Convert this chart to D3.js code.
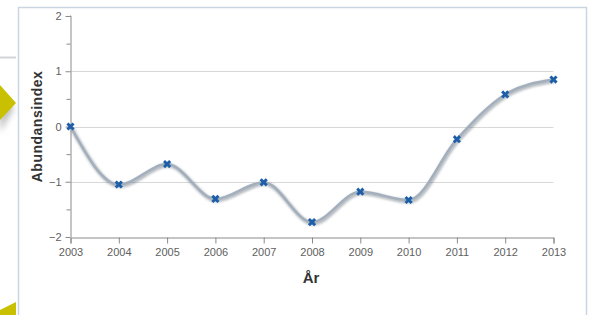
<!DOCTYPE html>
<html>
<head>
<meta charset="utf-8">
<script src="https://cdn.jsdelivr.net/npm/d3@7"></script>
<style>
    body { margin: 0; background: #fff; }
    svg { display: block; font-family: "Liberation Sans", Arial, sans-serif; }
</style>
</head>
<body>
<script>
const w = 589, h = 315;

// data
const years = [2003, 2004, 2005, 2006, 2007, 2008, 2009, 2010, 2011, 2012, 2013];
const abundance = [0, -1.05, -0.68, -1.31, -1.01, -1.73, -1.18, -1.33, -0.23, 0.58, 0.85];
const yTicks = [-2, -1, 0, 1, 2];
const yMinorTicks = [-1.5, -0.5, 0.5, 1.5];

let data = years.map((y, i) => ({ year: y, value: abundance[i] }));

let xScale = d3.scaleLinear().domain([2003, 2013]).range([70.5, 553.5]);
let yScale = d3.scaleLinear().domain([-2, 2]).range([237, 16]);

var svg = d3.select("body")
    .append("svg")
    .attr("width", w)
    .attr("height", h);

let defs = svg.append("defs");
defs.append("filter").attr("id", "blur")
    .attr("x", "-20%").attr("y", "-20%").attr("width", "140%").attr("height", "140%")
    .append("feGaussianBlur").attr("stdDeviation", 1.3);
defs.append("filter").attr("id", "blur2")
    .attr("x", "-50%").attr("y", "-50%").attr("width", "200%").attr("height", "200%")
    .append("feGaussianBlur").attr("stdDeviation", 3);

//page decorations left of the frame
svg.append("line")
    .attr("x1", 0).attr("x2", 16).attr("y1", 57.5).attr("y2", 57.5)
    .attr("stroke", "#d0d4d8").attr("stroke-width", 2);
svg.append("path")
    .attr("d", "M0,95 L14,108 L0,132 Z")
    .attr("fill", "#909090").attr("opacity", 0.6).attr("filter", "url(#blur2)");
svg.append("path")
    .attr("d", "M0,85 L16,103 L0,120 Z")
    .attr("fill", "#c8c000");
svg.append("path")
    .attr("d", "M0,315 L0,310 L16,302 L16,315 Z")
    .attr("fill", "#c8c000");

//frame
svg.append("path")
    .attr("d", "M18.5," + h + " L18.5,7.5 L586.5,7.5 L586.5," + h)
    .attr("fill", "none").attr("stroke", "#c9d5e1").attr("stroke-width", 1.5);

//grid
svg.append("g")
    .selectAll("line")
    .data([-1, 0, 1])
    .enter()
    .append("line")
    .attr("x1", xScale(2003)).attr("x2", xScale(2013))
    .attr("y1", d => Math.round(yScale(d)) + 0.5)
    .attr("y2", d => Math.round(yScale(d)) + 0.5)
    .attr("stroke", "#d8d8d8");

//y axis
let yAxis = svg.append("g")
    .attr("transform", "translate(" + xScale(2003) + ",0)")
    .call(d3.axisLeft(yScale).tickValues(yTicks).tickSize(5).tickPadding(4).tickFormat(d3.format("d")));
svg.append("g")
    .attr("transform", "translate(" + xScale(2003) + ",0)")
    .call(d3.axisLeft(yScale).tickValues(yMinorTicks).tickSize(4).tickFormat(""))
    .call(g => g.select(".domain").remove());

//x axis
let xAxis = svg.append("g")
    .attr("transform", "translate(0," + (yScale(-2) + 0.5) + ")")
    .call(d3.axisBottom(xScale).tickValues(years).tickSize(6).tickPadding(5).tickFormat(d3.format("d")));

svg.selectAll(".domain").attr("stroke", "#8a8a8a");
svg.selectAll(".tick line").attr("stroke", "#8a8a8a");
svg.selectAll(".tick text")
    .attr("fill", "#606060")
    .style("font-size", "11px")
    .style("font-family", "Liberation Sans, Arial, sans-serif");
yAxis.selectAll(".domain").attr("d", "M-0.5," + yScale(2) + "H0.5V" + yScale(-2));

//titles
svg.append("text")
    .attr("transform", "translate(42," + yScale(0) + ") rotate(-90)")
    .attr("text-anchor", "middle")
    .attr("fill", "#333")
    .style("font-size", "14px")
    .style("font-weight", "bold")
    .style("letter-spacing", "0.5px")
    .text("Abundansindex");
svg.append("text")
    .attr("x", 311).attr("y", 283)
    .attr("text-anchor", "middle")
    .attr("fill", "#333")
    .style("font-size", "15px")
    .style("font-weight", "bold")
    .text("År");

//line
let line = d3.line()
    .x(d => xScale(d.year))
    .y(d => yScale(d.value))
    .curve(d3.curveMonotoneX);

svg.append("path")
    .datum(data)
    .attr("d", line)
    .attr("transform", "translate(1,1.5)")
    .attr("fill", "none")
    .attr("stroke", "#606a75")
    .attr("stroke-opacity", 0.45)
    .attr("stroke-width", 4)
    .attr("filter", "url(#blur)");
svg.append("path")
    .datum(data)
    .attr("d", line)
    .attr("fill", "none")
    .attr("stroke", "#a3afbd")
    .attr("stroke-width", 2.5);

//markers
svg.selectAll(".marker")
    .data(data)
    .enter()
    .append("path")
    .attr("class", "marker")
    .attr("d", d3.symbol().type(d3.symbolCross).size(42))
    .attr("transform", d => "translate(" + xScale(d.year) + "," + yScale(d.value) + ") rotate(45)")
    .attr("fill", "#1c5ea8");
</script>
</body>
</html>
